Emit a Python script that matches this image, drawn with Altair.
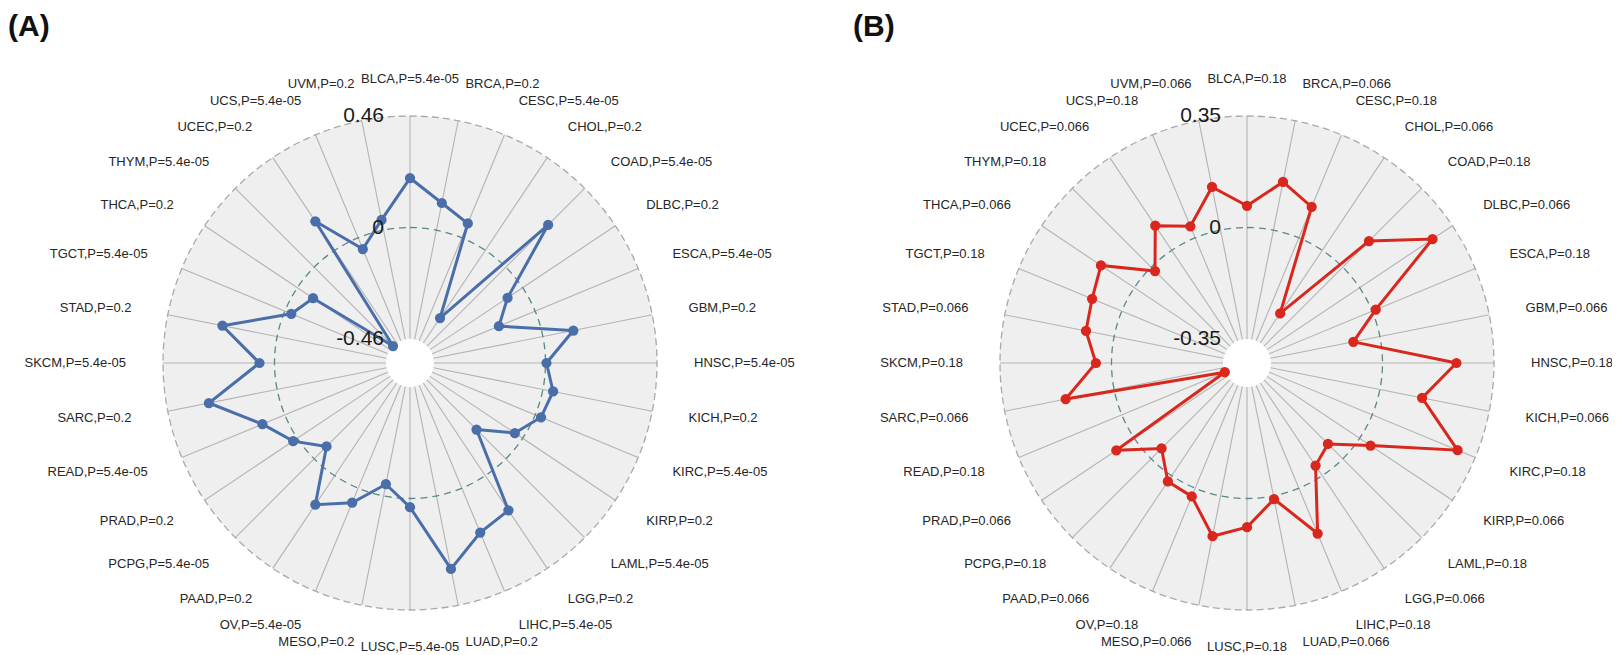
import math
import altair as alt
import pandas as pd

# ---------------- data ----------------
cats = ["BLCA", "BRCA", "CESC", "CHOL", "COAD", "DLBC", "ESCA", "GBM",
        "HNSC", "KICH", "KIRC", "KIRP", "LAML", "LGG", "LIHC", "LUAD",
        "LUSC", "MESO", "OV", "PAAD", "PCPG", "PRAD", "READ", "SARC",
        "SKCM", "STAD", "TGCT", "THCA", "THYM", "UCEC", "UCS", "UVM"]

vals_a = [0.204, 0.114, 0.064, -0.336, 0.247, -0.075, -0.162, 0.128,
          0.004, 0.043, 0.026, -0.039, -0.171, 0.172, 0.198, 0.307,
          0.036, -0.049, 0.065, 0.144, -0.072, 0.021, 0.100, 0.287,
          0.062, 0.230, -0.029, -0.078, -0.460, 0.144, -0.050, 0.043]

vals_b = [0.068, 0.154, 0.105, -0.238, 0.116, 0.275, 0.012, -0.085,
          0.232, 0.135, 0.290, 0.041, -0.066, -0.038, 0.154, 0.010,
          0.090, 0.129, 0.028, 0.022, -0.046, 0.068, -0.350, 0.155,
          0.049, 0.090, 0.101, 0.126, -0.017, 0.093, 0.039, 0.138]

p_a = ["5.4e-05", "0.2"] * 16
p_b = ["0.18", "0.066"] * 16

axis_vals_a = [-0.46, 0, 0.46]
axis_text_a = ["-0.46", "0", "0.46"]
axis_vals_b = [-0.35, 0, 0.35]
axis_text_b = ["-0.35", "0", "0.35"]

titles = ["(A)", "(B)"]
colors = ["#4a6ea9", "#d9271d"]

# ---------------- layout ----------------
W, H = 1604, 647
N = len(cats)
R_OUT, R_IN, R_LAB = 247, 24, 284
FONT = "Liberation Sans"

panels = [
    dict(panel="A", cx=402, cy=355, m=0.46, vals=vals_a, ps=p_a,
         av=axis_vals_a, at=axis_text_a, tx=0, color=colors[0]),
    dict(panel="B", cx=1239, cy=355, m=0.35, vals=vals_b, ps=p_b,
         av=axis_vals_b, at=axis_text_b, tx=845, color=colors[1]),
]

rows, axrows, crow, trow = [], [], [], []
for k, p in enumerate(panels):
    for i, c in enumerate(cats):
        rows.append(dict(panel=p["panel"], idx=i, cat=c, val=p["vals"][i],
                         m=p["m"], cx=p["cx"], cy=p["cy"],
                         label=f"{c},P={p['ps'][i]}"))
    for v, t in zip(p["av"], p["at"]):
        axrows.append(dict(panel=p["panel"], val=v, text=t, m=p["m"],
                           cx=p["cx"], cy=p["cy"]))
    crow.append(dict(panel=p["panel"], cx=p["cx"], cy=p["cy"]))
    trow.append(dict(panel=p["panel"], text=titles[k], tx=p["tx"], ty=4))

df = pd.DataFrame(rows)
dfax = pd.DataFrame(axrows)
dfc = pd.DataFrame(crow)
dft = pd.DataFrame(trow)

xs = alt.Scale(domain=[0, W], nice=False, zero=False)
ys = alt.Scale(domain=[0, H], nice=False, zero=False, reverse=True)


def X(f):
    return alt.X(f"{f}:Q", scale=xs, axis=None)


def Y(f):
    return alt.Y(f"{f}:Q", scale=ys, axis=None)


base = alt.Chart(df).transform_calculate(
    ang=f"datum.idx * 2 * PI / {N}",
    r=f"{R_IN} + (datum.val + datum.m) / (2 * datum.m) * {R_OUT - R_IN}",
    px="datum.cx + datum.r * sin(datum.ang)",
    py="datum.cy - datum.r * cos(datum.ang)",
    sx1=f"datum.cx + {R_IN} * sin(datum.ang)",
    sy1=f"datum.cy - {R_IN} * cos(datum.ang)",
    sx2=f"datum.cx + {R_OUT} * sin(datum.ang)",
    sy2=f"datum.cy - {R_OUT} * cos(datum.ang)",
    lx=f"datum.cx + {R_LAB} * sin(datum.ang)",
    ly=f"datum.cy - {R_LAB} * cos(datum.ang)",
    s="sin(datum.ang)",
)

color_scale = alt.Scale(domain=["A", "B"], range=colors)

# background ring (light grey with white centre)
bg = alt.Chart(dfc).mark_arc(theta=0, theta2=2 * math.pi, radius=R_OUT,
                             radius2=R_IN, fill="#efefef").encode(
    x=X("cx"), y=Y("cy"))

spokes = base.mark_rule(color="#b3b3b3", strokeWidth=1.1).encode(
    x=X("sx1"), y=Y("sy1"), x2="sx2:Q", y2="sy2:Q")

outer = alt.Chart(dfc).mark_arc(theta=0, theta2=2 * math.pi, radius=R_OUT,
                                fillOpacity=0, stroke="#a9a9a9",
                                strokeWidth=1.3, strokeDash=[7, 4]).encode(
    x=X("cx"), y=Y("cy"))

mid = alt.Chart(dfc).mark_arc(theta=0, theta2=2 * math.pi,
                              radius=(R_OUT + R_IN) / 2, fillOpacity=0,
                              stroke="#5a8888", strokeWidth=1.3,
                              strokeDash=[7, 5]).encode(
    x=X("cx"), y=Y("cy"))

line = base.mark_line(interpolate="linear-closed", strokeWidth=3).encode(
    x=X("px"), y=Y("py"), order="idx:Q", detail="panel:N",
    color=alt.Color("panel:N", scale=color_scale, legend=None))

pts = base.mark_circle(size=105, opacity=1).encode(
    x=X("px"), y=Y("py"),
    color=alt.Color("panel:N", scale=color_scale, legend=None))


def lab(cond, align):
    return base.transform_filter(cond).mark_text(
        align=align, baseline="middle", font=FONT, fontSize=13,
        color="#262626").encode(x=X("lx"), y=Y("ly"), text="label:N")


lab_r = lab("datum.s > 0.01", "left")
lab_l = lab("datum.s < -0.01", "right")
lab_c = lab("abs(datum.s) <= 0.01", "center")

axl = alt.Chart(dfax).transform_calculate(
    r=f"{R_IN} + (datum.val + datum.m) / (2 * datum.m) * {R_OUT - R_IN}",
    ax="datum.cx - 26",
    ay="datum.cy - datum.r",
).mark_text(align="right", baseline="middle", font=FONT, fontSize=21,
            color="#1a1a1a").encode(x=X("ax"), y=Y("ay"), text="text:N")

ttl = alt.Chart(dft).mark_text(align="left", baseline="top", font=FONT,
                               fontSize=30, fontWeight="bold",
                               color="#111111").encode(
    x=X("tx"), y=Y("ty"), text="text:N")

chart = alt.layer(bg, spokes, outer, mid, line, pts, lab_r, lab_l, lab_c,
                  axl, ttl).properties(
    width=W, height=H, padding=0, autosize="none", background="white"
).configure_view(strokeWidth=0)

chart.save("out.html", embed_options={"renderer": "svg", "actions": False})
